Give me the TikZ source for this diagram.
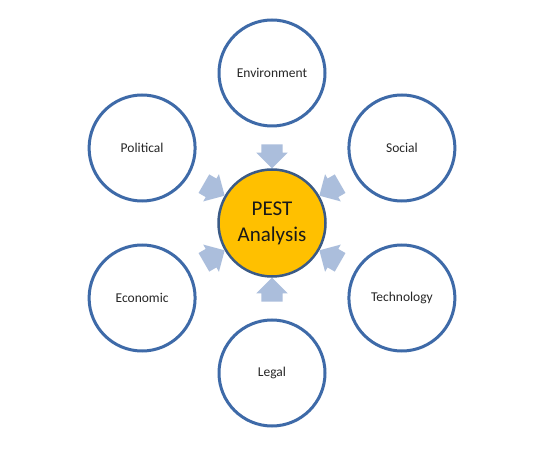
\documentclass[tikz,border=0pt]{standalone}
\usepackage{fontspec}
\setmainfont{Carlito}
\usetikzlibrary{shapes.arrows,calc,positioning}

\begin{document}
\begin{tikzpicture}[x=1pt,y=1pt,
  factor/.style={circle,draw=pestblue,line width=3pt,fill=white,minimum size=106pt,inner sep=0pt,text=black!85,font=\fontsize{13.5}{15}\selectfont},
  core/.style={circle,draw=coreedge,line width=2.5pt,fill=pestgold,minimum size=107pt,inner sep=0pt,align=center,text=black!90,font=\fontsize{21}{26}\selectfont},
  push/.style={single arrow,fill=arrowblue,draw=none,minimum height=24pt,inner xsep=0pt,inner ysep=10.5pt,single arrow head extend=5pt,single arrow tip angle=90}]
\definecolor{pestblue}{HTML}{3E6AA8}
\definecolor{coreedge}{HTML}{3A5A86}
\definecolor{pestgold}{HTML}{FFC000}
\definecolor{arrowblue}{HTML}{ABBEDC}
\useasboundingbox[fill=white] (0,0) rectangle (543,450);
\coordinate (C) at (272,227);
\node[core] (pest) at (C) {PEST\\Analysis};
\node[factor] (env) at ($(C)+(90:150)$) {Environment};
\node[factor] (pol) at ($(C)+(150:150)$) {Political};
\node[factor] (eco) at ($(C)+(210:150)$) {Economic};
\node[factor] (leg) at ($(C)+(270:150)$) {Legal};
\node[factor] (tec) at ($(C)+(330:150)$) {Technology};
\node[factor] (soc) at ($(C)+(30:150)$) {Social};
\node[push,rotate=270] (a1) at ($(C)!0.48!(env)$) {};
\node[push,rotate=330] (a2) at ($(C)!0.48!(pol)$) {};
\node[push,rotate=30]  (a3) at ($(C)!0.48!(eco)$) {};
\node[push,rotate=90]  (a4) at ($(C)!0.48!(leg)$) {};
\node[push,rotate=150] (a5) at ($(C)!0.48!(tec)$) {};
\node[push,rotate=210] (a6) at ($(C)!0.48!(soc)$) {};
\end{tikzpicture}
\end{document}
